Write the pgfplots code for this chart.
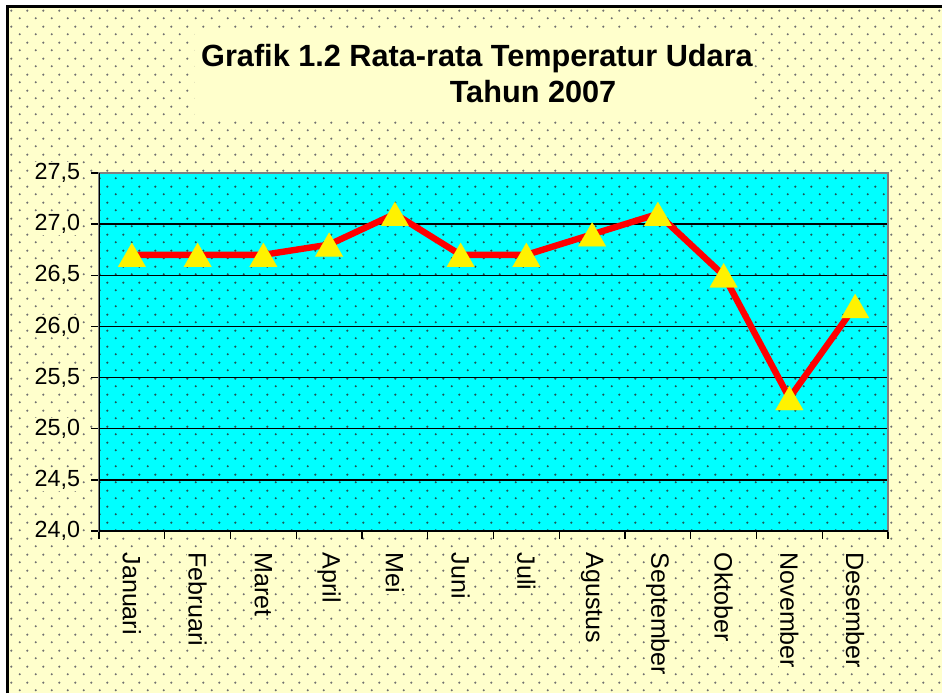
\documentclass[border=0pt]{standalone}
\usepackage{fontspec}
\setmainfont{Liberation Sans}
\usepackage{pgfplots}
\pgfplotsset{compat=1.18}
\usetikzlibrary{patterns}
\definecolor{bgyellow}{HTML}{FFFFCC}
\definecolor{dotgray}{HTML}{707070}
\definecolor{dotdark}{HTML}{1F5555}
\definecolor{plotcyan}{HTML}{00FFFF}
\pgfdeclarepatternformonly{mydots}{\pgfpointorigin}{\pgfpoint{12pt}{12pt}}{\pgfpoint{12pt}{12pt}}{%
 \pgfpathcircle{\pgfpoint{3pt}{3pt}}{0.95pt}%
 \pgfpathcircle{\pgfpoint{9pt}{9pt}}{0.95pt}%
 \pgfusepath{fill}}
\begin{document}
\begin{tikzpicture}
\begin{scope}[x=0.75pt,y=0.75pt]
\useasboundingbox (0,0) rectangle (942,693);
\fill[white] (0,0) rectangle (942,693);
\fill[bgyellow] (7,0) rectangle (942,686);
\fill[pattern=mydots, pattern color=dotgray] (7,0) rectangle (942,686);
\draw[line width=2.25pt] (7,0) -- (7,686) -- (942,686);
\fill[bgyellow] (195,575) rectangle (754,661);
\node[anchor=base, inner sep=0pt, font=\fontsize{23}{28}\selectfont\bfseries] at (477,626) {Grafik 1.2 Rata-rata Temperatur Udara};
\node[anchor=base, inner sep=0pt, font=\fontsize{23}{28}\selectfont\bfseries] at (533,590) {Tahun 2007};
\end{scope}
\begin{axis}[
  at={(74.25pt,121.5pt)}, anchor=south west,
  scale only axis, width=591.75pt, height=268.5pt,
  xmin=-0.5, xmax=11.5, ymin=24, ymax=27.5,
  xtick={0,...,11},
  xticklabels={Januari,Februari,Maret,April,Mei,Juni,Juli,Agustus,September,Oktober,November,Desember},
  minor xtick={-0.5,0.5,...,11.5},
  ytick={24,24.5,...,27.5},
  xtick pos=bottom, ytick pos=left,
  ymajorgrids, grid style={black, line width=1pt},
  tick align=outside, major tick length=6pt, minor tick length=6pt,
  major x tick style={draw=none},
  tick style={black, line width=1pt},
  axis line style={draw=gray, line width=1.5pt},
  axis background/.style={fill=plotcyan, postaction={pattern=mydots, pattern color=dotdark}},
  /pgf/number format/.cd, fixed, fixed zerofill, precision=1, use comma, assume math mode=true,
  /pgfplots/.cd,
  yticklabel style={fill=bgyellow, inner sep=1pt, font=\fontsize{17.5}{17.5}\selectfont, xshift=-7pt},
  xticklabel style={rotate=-90, anchor=west, fill=bgyellow, inner sep=1pt, font=\fontsize{18.8}{18.8}\selectfont},
  xticklabel shift=9pt,
]
\addplot[red, line width=4.8pt, line join=round, mark=triangle*, mark size=12pt,
  mark options={fill=yellow, draw=yellow, line width=0.1pt, yshift=-3pt}]
  coordinates {(0,26.7) (1,26.7) (2,26.7) (3,26.8) (4,27.1) (5,26.7) (6,26.7) (7,26.9) (8,27.1) (9,26.5) (10,25.3) (11,26.2)};
\draw[black, line width=1.5pt] (rel axis cs:0,1) -- (rel axis cs:0,0) -- (rel axis cs:1,0);
\end{axis}
\end{tikzpicture}
\end{document}
